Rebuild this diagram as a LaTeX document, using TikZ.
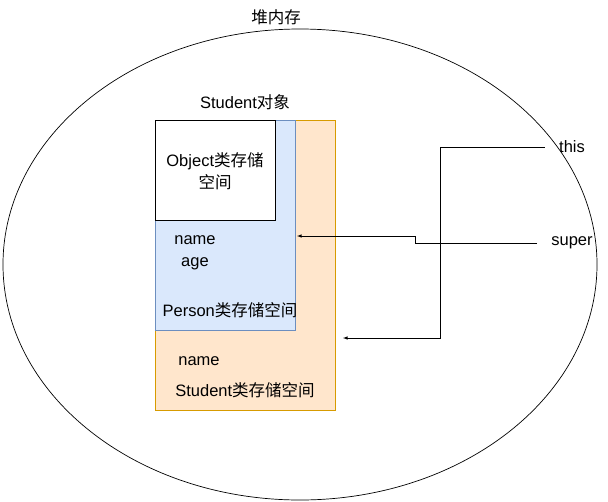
\documentclass[tikz,border=0pt]{standalone}
\usepackage{fontspec}
\usetikzlibrary{shapes.geometric}
\setmainfont{Liberation Sans}
\newfontfamily\cjk{Noto Sans CJK SC}
\begin{document}
\begin{tikzpicture}[x=1pt,y=-1pt,
  lbl/.style={font=\fontsize{16.5}{19}\selectfont, inner sep=0pt},
  arr/.style={-latex, line width=0.6pt}]
\useasboundingbox (0,0) rectangle (608,501);
\node[ellipse, draw, minimum width=594, minimum height=471, line width=0.7pt] (heap) at (300,264.5) {};
\node[lbl] (t) at (276,17) {{\cjk 堆内存}};
\node[lbl] (so) at (245,102) {Student{\cjk 对象}};
\node[draw={rgb,255:red,215;green,155;blue,0}, fill={rgb,255:red,255;green,230;blue,204}, minimum width=180, minimum height=290, anchor=north west, inner sep=0] (stu) at (155,120) {};
\node[draw={rgb,255:red,108;green,142;blue,191}, fill={rgb,255:red,218;green,232;blue,252}, minimum width=140, minimum height=210, anchor=north west, inner sep=0] (per) at (155,120) {};
\node[draw, fill=white, minimum width=120, minimum height=100, anchor=north west, inner sep=0] (obj) at (155,120) {};
\node[lbl, align=center] (ot) at (215,171) {Object{\cjk 类存储}\\[3pt]{\cjk 空间}};
\node[lbl] (n1) at (195,240) {name};
\node[lbl] (a1) at (195,264) {age};
\node[lbl] (pt) at (230,310) {Person{\cjk 类存储空间}};
\node[lbl] (n2) at (199,361) {name};
\node[lbl] (st) at (245,390) {Student{\cjk 类存储空间}};
\node[lbl] (this) at (572,147) {this};
\node[lbl] (super) at (572,243) {super};
\coordinate (pin) at (297,236);
\coordinate (sin) at (343,338);
\draw[arr] (this.west) ++(-14,0) -- (440,147) -- (440,338) -- (sin);
\draw[arr] (super.west) ++(-14,0) -- (415,243) -- (415,236) -- (pin);
\end{tikzpicture}
\end{document}
